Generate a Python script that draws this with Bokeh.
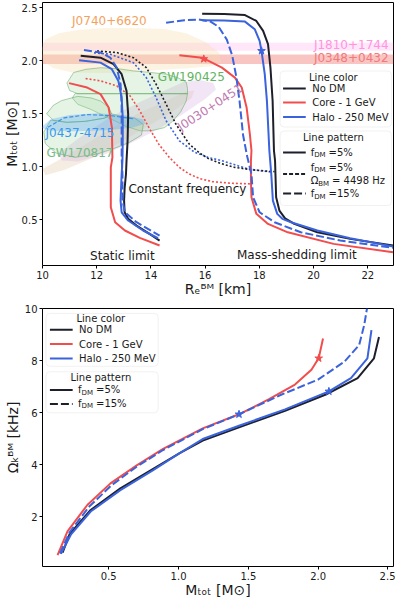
from bokeh.plotting import figure
from bokeh.models import Range1d, FixedTicker, NumeralTickFormatter, Label, BoxAnnotation, Arrow
from bokeh.layouts import column
from bokeh.embed import file_html
from bokeh.resources import INLINE

# ======================= DATA : top panel (mass-radius) =======================
R_TICKS = [10, 12, 14, 16, 18, 20, 22]
M_TICKS = [0.5, 1.0, 1.5, 2.0, 2.5]

# static (non-rotating) sequences
static_nodm_R = [11.41, 12.14, 12.62, 12.92, 13.10, 13.16, 13.14, 13.10, 13.08, 13.03, 13.01, 13.03, 13.16, 13.47, 13.95, 14.32]
static_nodm_M = [2.048, 2.030, 1.968, 1.874, 1.717, 1.497, 1.245, 1.057, 0.933, 0.800, 0.682, 0.572, 0.510, 0.446, 0.368, 0.305]
static_halo5_R = [11.35, 12.14, 12.56, 12.80, 12.92, 12.96, 12.96, 12.95, 12.92, 12.88, 12.92, 13.16, 13.71, 14.26]
static_halo5_M = [2.006, 1.983, 1.921, 1.810, 1.654, 1.466, 1.246, 1.058, 0.933, 0.682, 0.572, 0.494, 0.400, 0.327]
static_halo15_R = [11.53, 12.14, 12.50, 12.74, 12.88, 12.92, 12.92, 12.92, 12.95, 12.95, 13.04, 13.47, 14.32]
static_halo15_M = [2.103, 2.078, 2.030, 1.936, 1.780, 1.592, 1.340, 1.089, 0.933, 0.682, 0.572, 0.478, 0.352]
static_core5_R = [10.98, 11.65, 12.14, 12.44, 12.56, 12.58, 12.52, 12.52, 12.68, 13.04, 13.59, 14.32]
static_core5_M = [1.790, 1.748, 1.686, 1.560, 1.372, 1.089, 0.995, 0.619, 0.478, 0.400, 0.331, 0.259]

# mass-shedding (Kepler) sequences
kep_nodm_R = [15.89, 16.70, 17.47, 17.89, 18.14, 18.32, 18.41, 18.49, 18.54, 18.58, 18.62, 18.74, 18.95, 19.29, 20.14, 21.35, 22.93]
kep_nodm_M = [2.445, 2.442, 2.432, 2.376, 2.282, 2.157, 1.936, 1.623, 1.152, 1.058, 0.713, 0.588, 0.515, 0.462, 0.383, 0.321, 0.258]
kep_halo5_R = [15.89, 16.70, 17.47, 17.83, 18.01, 18.08, 18.20, 18.28, 18.37, 18.44, 18.50, 18.66, 18.85, 19.17, 20.14, 21.35, 22.93]
kep_halo5_M = [2.382, 2.380, 2.370, 2.298, 2.188, 2.094, 1.874, 1.623, 1.152, 0.933, 0.682, 0.557, 0.510, 0.478, 0.400, 0.327, 0.249]
kep_halo15_R = [14.56, 15.23, 15.77, 16.20, 16.50, 16.80, 17.00, 17.15, 17.27, 17.40, 17.55, 17.71, 17.77, 18.01, 18.56, 19.53, 20.99, 22.93]
kep_halo15_M = [2.360, 2.382, 2.390, 2.370, 2.320, 2.200, 2.050, 1.850, 1.620, 1.300, 1.100, 0.933, 0.713, 0.572, 0.478, 0.383, 0.305, 0.237]
kep_core5_R = [15.05, 15.89, 16.62, 17.10, 17.35, 17.53, 17.65, 17.71, 17.69, 17.69, 17.71, 17.89, 18.32, 19.05, 20.74, 22.93]
kep_core5_M = [2.053, 2.030, 1.936, 1.842, 1.748, 1.560, 1.310, 1.152, 1.058, 0.870, 0.713, 0.557, 0.462, 0.383, 0.274, 0.195]

# constant frequency (4498 Hz) sequences
cf_nodm_R = [12.01, 12.74, 13.35, 13.83, 14.19, 14.56, 14.92, 15.41, 15.80, 16.14, 16.60, 17.10, 17.80, 18.56]
cf_nodm_M = [2.093, 2.078, 2.030, 1.936, 1.780, 1.592, 1.404, 1.216, 1.130, 1.075, 1.030, 0.995, 0.970, 0.955]
cf_halo5_R = [11.90, 12.50, 13.35, 13.83, 14.19, 14.56, 15.05, 15.60, 16.10, 16.62, 17.59, 18.45]
cf_halo5_M = [2.075, 2.062, 1.983, 1.842, 1.654, 1.435, 1.246, 1.140, 1.090, 1.058, 0.980, 0.950]
cf_core5_R = [11.59, 12.14, 12.74, 13.23, 13.59, 13.95, 14.30, 14.68, 15.05, 15.41, 15.80, 16.26, 17.00, 17.65]
cf_core5_M = [1.833, 1.811, 1.764, 1.670, 1.529, 1.360, 1.210, 1.089, 0.995, 0.933, 0.890, 0.861, 0.845, 0.840]

# star markers
star_top_R = [18.08, 15.95]
star_top_M = [2.094, 2.018]

# observational constraints
J0740_R = [9.95, 10.1, 10.6, 11.3, 12.3, 13.5, 14.5, 15.3, 16.0, 16.5, 16.6, 16.2, 15.4, 14.4, 13.3, 12.2, 11.1, 10.4, 10.0]
J0740_M = [2.10, 2.20, 2.26, 2.29, 2.31, 2.31, 2.30, 2.26, 2.18, 2.08, 1.99, 1.95, 1.93, 1.915, 1.89, 1.885, 1.89, 1.93, 2.00]
J1810_band = [2.095, 2.17]
J0348_band = [1.97, 2.06]
GW190425_m1_R = [10.9, 11.15, 11.6, 12.15, 12.8, 13.35, 14.0, 14.55, 15.0, 15.3, 15.35, 15.35, 11.3, 11.0]
GW190425_m1_M = [1.79, 1.89, 1.92, 1.935, 1.925, 1.905, 1.89, 1.875, 1.84, 1.80, 1.74, 1.69, 1.69, 1.72]
GW190425_m2_R = [11.2, 15.35, 15.3, 15.1, 14.8, 14.5, 14.0, 13.6, 13.1, 12.7, 12.2, 11.8, 11.3, 11.1]
GW190425_m2_M = [1.69, 1.69, 1.62, 1.52, 1.43, 1.37, 1.34, 1.34, 1.38, 1.43, 1.49, 1.54, 1.59, 1.65]
GW170817_m1_R = [10.15, 10.4, 10.7, 11.3, 11.8, 12.15, 12.45, 12.55, 12.3, 11.6, 10.9, 10.4]
GW170817_m1_M = [1.50, 1.58, 1.625, 1.665, 1.65, 1.62, 1.56, 1.50, 1.46, 1.43, 1.42, 1.44]
GW170817_m2_R = [10.3, 10.9, 11.6, 12.3, 12.55, 13.0, 13.4, 13.72, 13.65, 13.2, 12.6, 12.0, 11.2, 10.5, 10.1, 10.05]
GW170817_m2_M = [1.44, 1.42, 1.43, 1.46, 1.50, 1.47, 1.46, 1.40, 1.30, 1.23, 1.17, 1.12, 1.09, 1.13, 1.22, 1.33]
J0437_R = [9.95, 10.3, 11.0, 12.0, 13.0, 13.7, 13.8, 13.3, 12.4, 11.2, 10.3]
J0437_M = [1.37, 1.45, 1.49, 1.505, 1.49, 1.45, 1.41, 1.37, 1.345, 1.335, 1.34]
J0437_edge_R = [10.2, 10.8, 11.65, 12.5, 13.35]
J0437_edge_M = [1.373, 1.462, 1.493, 1.484, 1.453]
J0030a_R = [10.6, 11.5, 12.5, 13.5, 14.5, 15.2, 15.8, 16.3, 16.4, 16.0, 15.2, 14.3, 13.3, 12.3, 11.3, 10.7]
J0030a_M = [1.13, 1.30, 1.47, 1.60, 1.72, 1.80, 1.82, 1.79, 1.73, 1.64, 1.50, 1.36, 1.23, 1.12, 1.05, 1.06]
J0030b_R = [10.0, 10.5, 11.5, 12.5, 13.5, 14.5, 15.3, 15.6, 15.5, 14.8, 13.8, 12.8, 11.8, 10.8, 10.1]
J0030b_M = [0.98, 1.05, 1.20, 1.36, 1.50, 1.62, 1.71, 1.72, 1.65, 1.52, 1.37, 1.22, 1.08, 0.97, 0.92]

# ======================= DATA : bottom panel (Kepler frequency) =======================
MT_TICKS = [0.5, 1.0, 1.5, 2.0, 2.5]
W_TICKS = [2, 4, 6, 8, 10]
kf_nodm_M = [0.169, 0.22, 0.37, 0.583, 0.818, 1.008, 1.173, 1.433, 1.763, 2.055, 2.283, 2.40, 2.436]
kf_nodm_W = [0.63, 1.35, 2.27, 3.10, 3.85, 4.45, 4.93, 5.44, 6.07, 6.70, 7.33, 8.09, 8.91]
kf_halo5_M = [0.157, 0.228, 0.37, 0.583, 0.818, 1.008, 1.173, 1.433, 1.763, 2.077, 2.235, 2.353, 2.382]
kf_halo5_W = [0.59, 1.32, 2.21, 3.03, 3.80, 4.45, 4.99, 5.50, 6.13, 6.82, 7.33, 8.09, 9.17]
kf_halo15_M = [0.150, 0.22, 0.36, 0.52, 0.70, 0.889, 1.173, 1.433, 1.739, 1.999, 2.188, 2.294, 2.33, 2.35]
kf_halo15_W = [0.60, 1.42, 2.40, 3.22, 3.93, 4.57, 5.37, 5.94, 6.70, 7.27, 7.96, 8.60, 9.36, 10.0]
kf_core5_M = [0.133, 0.204, 0.346, 0.512, 0.70, 0.889, 1.173, 1.433, 1.645, 1.834, 1.952, 2.004, 2.035]
kf_core5_W = [0.54, 1.45, 2.46, 3.29, 3.98, 4.61, 5.40, 5.94, 6.51, 7.08, 7.65, 8.09, 8.85]
star_bot_M = [2.004, 2.077, 1.433]
star_bot_W = [8.09, 6.82, 5.94]

legend_colors = ["No DM", "Core - 1 GeV", "Halo - 250 MeV"]

# ======================= STYLE =======================
BLACK = "#1d1f2a"
RED = "#f24d4d"
BLUE = "#3a63dc"
FONT = "DejaVu Sans"
TXT = "#1a1a1a"

W = 395
H1, H2 = 302, 298
TX0, TX1, TY0, TY1 = 10.0, 22.95, 0.07, 2.55
BX0, BX1, BY0, BY1 = 0.025, 2.54, 0.1, 10.0
# frame pixel extents on the page
TF = dict(l=38, r=394, t=2, b=265)
BF = dict(l=38, r=393, t=308, b=569)


def conv_factory(F, x0, x1, y0, y1):
    def conv(px, py):
        x = x0 + (px - F["l"]) / (F["r"] - F["l"]) * (x1 - x0)
        y = y1 - (py - F["t"]) / (F["b"] - F["t"]) * (y1 - y0)
        return x, y
    return conv


tconv = conv_factory(TF, TX0, TX1, TY0, TY1)
bconv = conv_factory(BF, BX0, BX1, BY0, BY1)


def style(p, xt, yt, xfmt, yfmt, xlabel, ylabel, ylab_standoff):
    p.xgrid.visible = False
    p.ygrid.visible = False
    p.outline_line_color = "black"
    p.outline_line_width = 1
    p.background_fill_color = "white"
    p.border_fill_color = "white"
    for ax in (p.xaxis[0], p.yaxis[0]):
        ax.axis_line_color = None
        ax.major_tick_in = 0
        ax.major_tick_out = 3
        ax.major_tick_line_color = "black"
        ax.minor_tick_line_color = None
        ax.major_label_text_font = FONT
        ax.major_label_text_font_size = "10px"
        ax.major_label_text_color = TXT
        ax.major_label_standoff = 2
        ax.axis_label_text_font = FONT
        ax.axis_label_text_font_size = "14px"
        ax.axis_label_text_font_style = "normal"
        ax.axis_label_text_color = TXT
    p.xaxis.ticker = FixedTicker(ticks=xt)
    p.yaxis.ticker = FixedTicker(ticks=yt)
    p.xaxis.formatter = NumeralTickFormatter(format=xfmt)
    p.yaxis.formatter = NumeralTickFormatter(format=yfmt)
    p.xaxis.axis_label = xlabel
    p.yaxis.axis_label = ylabel
    p.xaxis.axis_label_standoff = -1
    p.yaxis.axis_label_standoff = ylab_standoff


def text(p, conv, px, py, s, size, color=TXT, align="left", angle=0.0, alpha=1.0):
    x, y = conv(px, py)
    p.add_layout(Label(x=x, y=y, text=s, text_font=FONT, text_font_size=f"{size}px",
                       text_color=color, text_alpha=alpha, text_align=align,
                       text_baseline="middle", angle=angle))


EM = {"f": 0.352, "D": 0.770, "M": 0.863, " ": 0.318, "=": 0.838, "%": 0.950,
      "Ω": 0.765, "B": 0.686, "H": 0.752, "z": 0.525}
for d in "0123456789":
    EM[d] = 0.636


def rich(p, conv, px, py, parts, size=10):
    cx = px
    for s, sub in parts:
        fs = size * 0.7 if sub else size
        if s.strip():
            text(p, conv, cx, py + (3 if sub else 0), s, round(fs, 1))
        cx += sum(EM.get(c, 0.6) for c in s) * fs


def box(p, conv, l, r, t, b):
    x0, y0 = conv(l, b)
    x1, y1 = conv(r, t)
    p.add_layout(BoxAnnotation(left=x0, right=x1, bottom=y0, top=y1, fill_color="white",
                               fill_alpha=0.85, line_color="#d0d0d0", line_width=1,
                               border_radius=4, level="annotation"))


def sample(p, conv, l, r, py, color, dash="solid", width=2):
    x0, y = conv(l, py)
    x1, _ = conv(r, py)
    p.add_layout(Arrow(x_start=x0, y_start=y, x_end=x1, y_end=y, end=None,
                       line_color=color, line_width=width, line_dash=dash))


# ======================= TOP FIGURE =======================
p1 = figure(width=W, height=H1, x_range=Range1d(TX0, TX1), y_range=Range1d(TY0, TY1),
            output_backend="svg", toolbar_location=None,
            min_border_left=TF["l"], min_border_right=W - TF["r"],
            min_border_top=TF["t"], min_border_bottom=H1 - TF["b"])
style(p1, R_TICKS, M_TICKS, "0", "0.0", "Rₑᴮᴹ [km]", "Mₜₒₜ [M⊙]", -1)

# bands
p1.add_layout(BoxAnnotation(bottom=J1810_band[0], top=J1810_band[1], fill_color="#ffb8ec",
                            fill_alpha=0.35, line_color=None, level="underlay"))
p1.add_layout(BoxAnnotation(bottom=J0348_band[0], top=J0348_band[1], fill_color="#f07f7a",
                            fill_alpha=0.45, line_color=None, level="underlay"))
# regions
p1.patch(J0740_R, J0740_M, fill_color="#f7dcae", fill_alpha=0.35, line_color=None)
p1.patch(J0030b_R, J0030b_M, fill_color="#e3cba8", fill_alpha=0.35, line_color=None)
p1.patch(J0030a_R, J0030a_M, fill_color="#dcbfe8", fill_alpha=0.40, line_color=None)
for rr, mm in ((GW190425_m1_R, GW190425_m1_M), (GW190425_m2_R, GW190425_m2_M),
               (GW170817_m1_R, GW170817_m1_M), (GW170817_m2_R, GW170817_m2_M)):
    p1.patch(rr, mm, fill_color="#9ad39a", fill_alpha=0.25, line_color="#5aa55a",
             line_alpha=0.5, line_width=1)
p1.patch(J0437_R, J0437_M, fill_color="#4aa3f2", fill_alpha=0.32, line_color=None)
p1.line(J0437_edge_R, J0437_edge_M, line_color="#3d8ee8", line_width=1.2, line_dash="4 2")

# curves
lw = 2
p1.line(cf_core5_R, cf_core5_M, line_color=RED, line_width=1.6, line_dash="2 2")
p1.line(cf_halo5_R, cf_halo5_M, line_color=BLUE, line_width=1.6, line_dash="2 2")
p1.line(cf_nodm_R, cf_nodm_M, line_color=BLACK, line_width=1.6, line_dash="2 2")
p1.line(static_core5_R, static_core5_M, line_color=RED, line_width=lw)
p1.line(kep_core5_R, kep_core5_M, line_color=RED, line_width=lw)
p1.line(static_nodm_R, static_nodm_M, line_color=BLACK, line_width=lw)
p1.line(kep_nodm_R, kep_nodm_M, line_color=BLACK, line_width=lw)
p1.line(static_halo5_R, static_halo5_M, line_color=BLUE, line_width=lw)
p1.line(kep_halo5_R, kep_halo5_M, line_color=BLUE, line_width=lw)
p1.line(static_halo15_R, static_halo15_M, line_color=BLUE, line_width=lw, line_dash="8 3")
p1.line(kep_halo15_R, kep_halo15_M, line_color=BLUE, line_width=lw, line_dash="8 3")
p1.scatter(star_top_R, star_top_M, marker="star", size=8, fill_color=[BLUE, RED],
           line_color=[BLUE, RED])

# texts
text(p1, tconv, 68, 20, "J0740+6620", 12, "#f2a25e")
text(p1, tconv, 389, 44, "J1810+1744", 12, "#ff94e2", align="right")
text(p1, tconv, 389, 57, "J0348+0432", 12, "#f27a7a", align="right")
text(p1, tconv, 155, 76, "GW190425", 12, "#62b462")
text(p1, tconv, 41, 132, "J0437-4715", 12, "#3898f0")
text(p1, tconv, 42, 152, "GW170817", 12, "#76bb86")
text(p1, tconv, 208, 107, "J0030+0451", 12, "#c07ab0", align="center", angle=0.58)
text(p1, tconv, 185, 188, "Constant frequency", 12, align="center")
text(p1, tconv, 119, 255, "Static limit", 12, align="center")
text(p1, tconv, 296, 254, "Mass-shedding limit", 12, align="center")

# legends (top)
box(p1, tconv, 279, 392, 70.5, 126.5)
text(p1, tconv, 333, 76.5, "Line color", 10, align="center")
for yy, col, lab in ((88, BLACK, legend_colors[0]), (102, RED, legend_colors[1]), (116.5, BLUE, legend_colors[2])):
    sample(p1, tconv, 282, 305, yy, col)
    text(p1, tconv, 311.5, yy, lab, 10)
box(p1, tconv, 279, 392, 130.5, 205)
text(p1, tconv, 333, 137, "Line pattern", 10, align="center")
sample(p1, tconv, 282, 305, 152, BLACK)
rich(p1, tconv, 310, 151.5, [("f", 0), ("DM", 1), (" ", 0), ("=5%", 0)])
sample(p1, tconv, 282, 305, 173.5, BLACK, dash="4 2")
rich(p1, tconv, 310, 166.5, [("f", 0), ("DM", 1), (" ", 0), ("=5%", 0)])
rich(p1, tconv, 310, 180, [("Ω", 0), ("BM", 1), (" ", 0), ("= 4498 Hz", 0)])
sample(p1, tconv, 282, 305, 193, BLACK, dash="8 3")
rich(p1, tconv, 310, 193, [("f", 0), ("DM", 1), (" ", 0), ("=15%", 0)])

# ======================= BOTTOM FIGURE =======================
p2 = figure(width=W, height=H2, x_range=Range1d(BX0, BX1), y_range=Range1d(BY0, BY1),
            output_backend="svg", toolbar_location=None,
            min_border_left=BF["l"], min_border_right=W - BF["r"],
            min_border_top=BF["t"] - H1, min_border_bottom=H1 + H2 - BF["b"])
style(p2, MT_TICKS, W_TICKS, "0.0", "0", "Mₜₒₜ [M⊙]", "Ωₖᴮᴹ [kHz]", 1)

p2.line(kf_nodm_M, kf_nodm_W, line_color=BLACK, line_width=lw)
p2.line(kf_halo5_M, kf_halo5_W, line_color=BLUE, line_width=lw)
p2.line(kf_core5_M, kf_core5_W, line_color=RED, line_width=lw)
p2.line(kf_halo15_M, kf_halo15_W, line_color=BLUE, line_width=lw, line_dash="8 3")
p2.scatter(star_bot_M, star_bot_W, marker="star", size=8, fill_color=[RED, BLUE, BLUE],
           line_color=[RED, BLUE, BLUE])

box(p2, bconv, 41.5, 155, 313, 366.5)
text(p2, bconv, 97, 318.5, "Line color", 10, align="center")
for yy, col, lab in ((329.5, BLACK, legend_colors[0]), (344, RED, legend_colors[1]), (358.5, BLUE, legend_colors[2])):
    sample(p2, bconv, 45.5, 68.5, yy, col)
    text(p2, bconv, 75, yy, lab, 10)
box(p2, bconv, 41.5, 155, 372, 413.5)
text(p2, bconv, 97, 378, "Line pattern", 10, align="center")
sample(p2, bconv, 45.5, 68.5, 390.5, BLACK)
rich(p2, bconv, 74, 390, [("f", 0), ("DM", 1), (" ", 0), ("=5%", 0)])
sample(p2, bconv, 45.5, 68.5, 404.5, BLACK, dash="8 3")
rich(p2, bconv, 74, 404, [("f", 0), ("DM", 1), (" ", 0), ("=15%", 0)])

lay = column(p1, p2, spacing=0)
lay.styles = {"position": "absolute", "left": "0px", "top": "0px"}

open("out.html", "w").write(file_html(lay, INLINE))
